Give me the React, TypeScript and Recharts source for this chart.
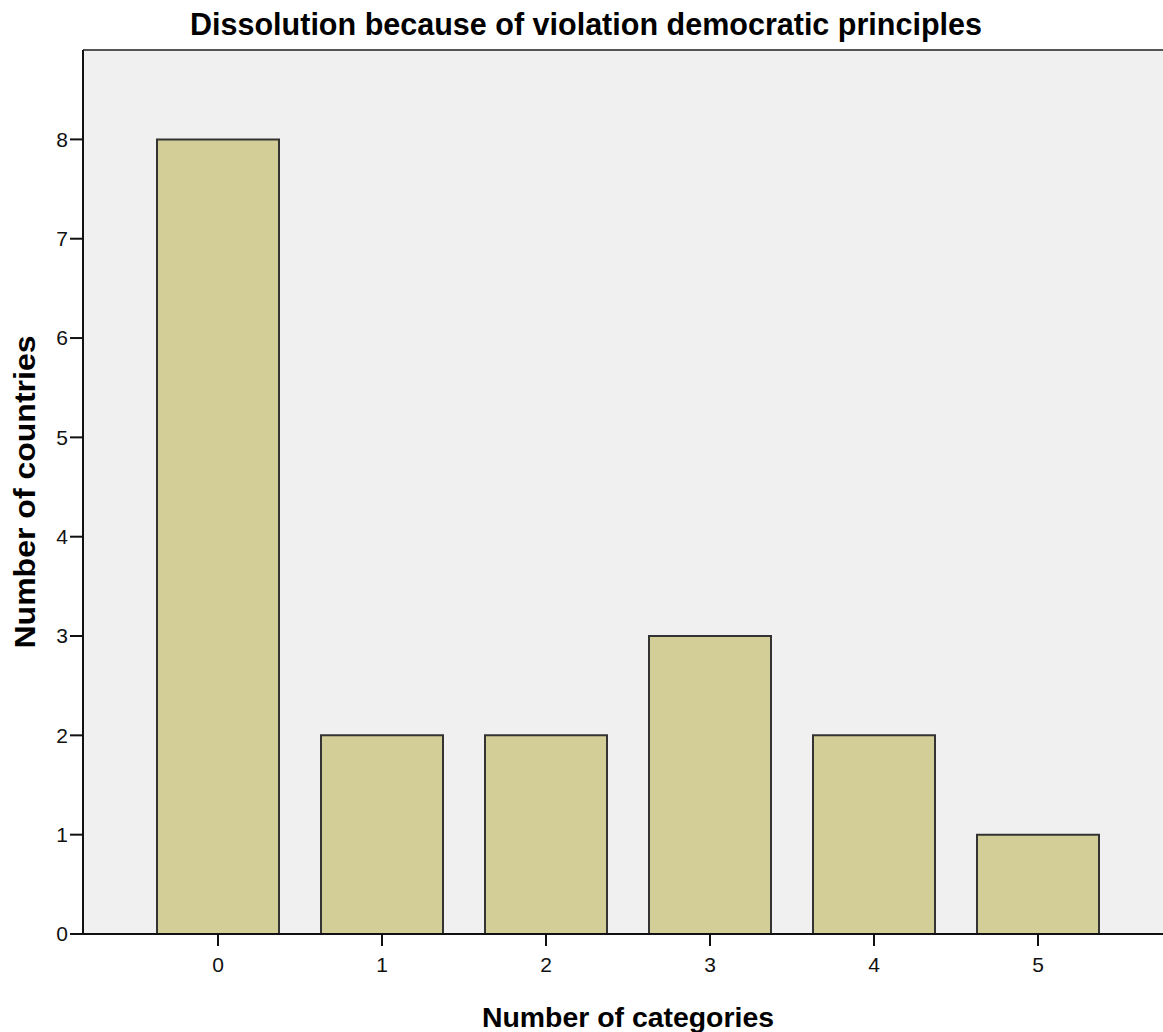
import React from "react";
import { BarChart, Bar, XAxis, YAxis, CartesianGrid, ReferenceLine, Label } from "recharts";

const CATEGORIES = ["0", "1", "2", "3", "4", "5"];
const COUNTS = [8, 2, 2, 3, 2, 1];
const Y_TICKS = [0, 1, 2, 3, 4, 5, 6, 7, 8];
const Y_MAX = 8.9;
const TITLE = "Dissolution because of violation democratic principles";
const X_TITLE = "Number of categories";
const Y_TITLE = "Number of countries";

const data = CATEGORIES.map((c, i) => ({ category: c, count: COUNTS[i] }));

const FONT = "'Liberation Sans', Arial, sans-serif";

export default function App() {
  return (
    <div style={{ position: "absolute", left: 0, top: 0, width: 1163, height: 1032, overflow: "hidden", background: "#fff" }}>
      <svg width={1163} height={50} style={{ position: "absolute", left: 0, top: 0 }}>
        <text x={586} y={35} textAnchor="middle" fontFamily={FONT} fontWeight="bold" fontSize={31} fill="#000" textLength={792} lengthAdjust="spacingAndGlyphs">
          {TITLE}
        </text>
      </svg>
      <div style={{ position: "absolute", left: 0, top: 0 }}>
        <BarChart width={1173} height={1032} data={data} margin={{ top: 50, right: 0, bottom: 0, left: 0 }} barSize={122}>
          <CartesianGrid horizontal={false} vertical={false} fill="#F0F0F0" />
          <XAxis
            dataKey="category"
            padding={{ left: 53, right: 53 }}
            height={98}
            tickSize={12}
            tickMargin={11}
            axisLine={{ stroke: "#111", strokeWidth: 2 }}
            tickLine={{ stroke: "#111", strokeWidth: 2 }}
            tick={{ fill: "#111", fontSize: 21, fontFamily: FONT }}
          >
            <Label
              content={(props: any) => {
                const vb = props.viewBox || { x: 83, y: 934, width: 1090, height: 98 };
                return (
                  <text x={vb.x + vb.width / 2} y={vb.y + 93} textAnchor="middle" fontFamily={FONT} fontWeight="bold" fontSize={28} fill="#000" textLength={292} lengthAdjust="spacingAndGlyphs">
                    {X_TITLE}
                  </text>
                );
              }}
            />
          </XAxis>
          <YAxis
            width={83}
            domain={[0, Y_MAX]}
            ticks={Y_TICKS}
            interval={0}
            tickSize={13}
            tickMargin={2}
            axisLine={{ stroke: "#111", strokeWidth: 2 }}
            tickLine={{ stroke: "#111", strokeWidth: 2 }}
            tick={{ fill: "#111", fontSize: 21, fontFamily: FONT }}
          >
            <Label
              content={(props: any) => {
                const vb = props.viewBox || { x: 0, y: 50, width: 83, height: 884 };
                const cx = 35;
                const cy = vb.y + vb.height / 2;
                return (
                  <text x={cx} y={cy} transform={`rotate(-90 ${cx} ${cy})`} textAnchor="middle" fontFamily={FONT} fontWeight="bold" fontSize={30} fill="#000" textLength={313} lengthAdjust="spacingAndGlyphs">
                    {Y_TITLE}
                  </text>
                );
              }}
            />
          </YAxis>
          <ReferenceLine y={Y_MAX} stroke="#555" strokeWidth={2} />
          <Bar dataKey="count" fill="#D3CE97" stroke="#333" strokeWidth={2} isAnimationActive={false} />
        </BarChart>
      </div>
    </div>
  );
}
